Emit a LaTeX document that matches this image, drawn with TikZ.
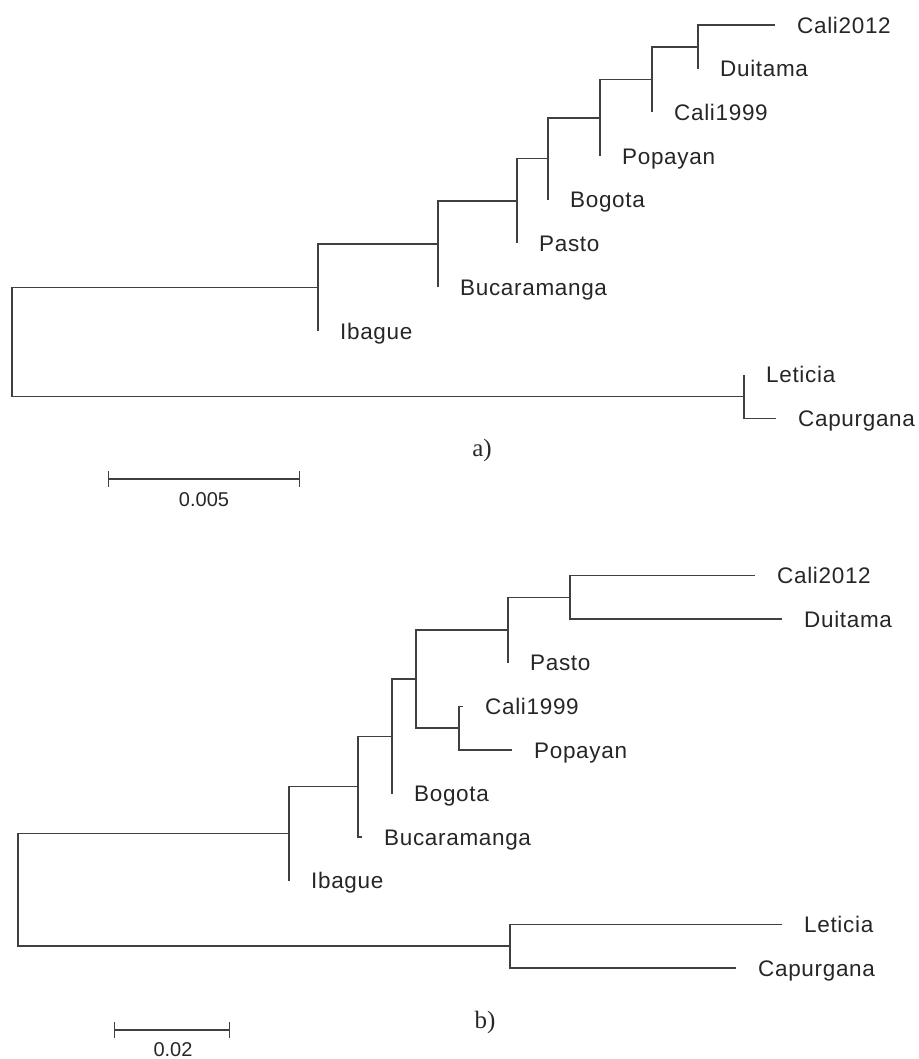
\documentclass[tikz,border=0pt]{standalone}
\usepackage{fontspec}
\setmainfont{Liberation Sans}
\newfontfamily\taxfont[LetterSpace=3]{Liberation Sans}
\newfontfamily\capfont{Liberation Serif}
\usetikzlibrary{arrows.meta}

\begin{document}
\begin{tikzpicture}[x=1pt,y=-1pt]
      \tikzset{branch/.style={color=black!75, line width=1.4pt},
               elbow/.style={to path={|- (\tikztotarget)}},
               taxon/.style={anchor=west, inner xsep=22pt, inner ysep=0pt, text height=16.2pt, text depth=0pt, text=black!85, font=\taxfont\fontsize{22.5}{26}\selectfont},
               barlabel/.style={inner sep=0pt, text height=14.3pt, text depth=0pt, text=black!85, font=\fontsize{20}{24}\selectfont},
               caption/.style={inner sep=0pt, text=black!85, font=\capfont\fontsize{25}{29}\selectfont}}
      \useasboundingbox (0,0) rectangle (918,1059);
%% Tree a)
      	\node[taxon] (aCali12) at (775,25) {Cali2012};
      	\node[taxon] (aDuit) at (698,68.7) {Duitama};
      	\node[taxon] (aCali99) at (652,112.4) {Cali1999};
      	\node[taxon] (aPopa) at (600,156.1) {Popayan};
      	\node[taxon] (aBogo) at (548,199.8) {Bogota};
      	\node[taxon] (aPast) at (517,243.5) {Pasto};
      	\node[taxon] (aBuca) at (438,287.2) {Bucaramanga};
      	\node[taxon] (aIbag) at (318,330.9) {Ibague};
      	\node[taxon] (aLeti) at (744,374.6) {Leticia};
      	\node[taxon] (aCapu) at (776,418.3) {Capurgana};
      	\coordinate (a1) at (698,46.9);
      	\coordinate (a2) at (652,79.6);
      	\coordinate (a3) at (600,117.9);
      	\coordinate (a4) at (548,158.8);
      	\coordinate (a5) at (517,201.2);
      	\coordinate (a6) at (438,244.2);
      	\coordinate (a7) at (318,287.5);
      	\coordinate (a8) at (744,396.5);
      	\coordinate (aRoot) at (12,342);
%Branches
		\path[branch] (a1) edge[elbow] (aCali12) edge[elbow] (aDuit);
		\path[branch] (a2) edge[elbow] (a1) edge[elbow] (aCali99);
		\path[branch] (a3) edge[elbow] (a2) edge[elbow] (aPopa);
		\path[branch] (a4) edge[elbow] (a3) edge[elbow] (aBogo);
		\path[branch] (a5) edge[elbow] (a4) edge[elbow] (aPast);
		\path[branch] (a6) edge[elbow] (a5) edge[elbow] (aBuca);
		\path[branch] (a7) edge[elbow] (a6) edge[elbow] (aIbag);
		\path[branch] (a8) edge[elbow] (aLeti) edge[elbow] (aCapu);
		\path[branch] (aRoot) edge[elbow] (a7) edge[elbow] (a8);
%Scale
      	\coordinate (sa1) at (108,479);
      	\coordinate (sa2) at (300,479);
		\draw[branch, {Bar[width=16pt]}-{Bar[width=16pt]}] (sa1) -- (sa2);
      	\node[barlabel] (la) at (204,499.5) {0.005};
      	\node[caption] (capa) at (482,450) {a)};
%% Tree b)
      	\node[taxon] (bCali12) at (755,575.5) {Cali2012};
      	\node[taxon] (bDuit) at (782,619.1) {Duitama};
      	\node[taxon] (bPast) at (508,662.7) {Pasto};
      	\node[taxon] (bCali99) at (463,706.3) {Cali1999};
      	\node[taxon] (bPopa) at (512,749.9) {Popayan};
      	\node[taxon] (bBogo) at (392,793.5) {Bogota};
      	\node[taxon] (bBuca) at (362,837.1) {Bucaramanga};
      	\node[taxon] (bIbag) at (289,880.7) {Ibague};
      	\node[taxon] (bLeti) at (782,924.3) {Leticia};
      	\node[taxon] (bCapu) at (736,967.9) {Capurgana};
      	\coordinate (b1) at (570,597.3);
      	\coordinate (b2) at (508,630);
      	\coordinate (b3) at (459,728.1);
      	\coordinate (b4) at (416,679.05);
      	\coordinate (b5) at (392,736.3);
      	\coordinate (b6) at (358,786.7);
      	\coordinate (b7) at (289,833.7);
      	\coordinate (b8) at (510,946.1);
      	\coordinate (bRoot) at (18,889.9);
%Branches
		\path[branch] (b1) edge[elbow] (bCali12) edge[elbow] (bDuit);
		\path[branch] (b2) edge[elbow] (b1) edge[elbow] (bPast);
		\path[branch] (b3) edge[elbow] (bCali99) edge[elbow] (bPopa);
		\path[branch] (b4) edge[elbow] (b2) edge[elbow] (b3);
		\path[branch] (b5) edge[elbow] (b4) edge[elbow] (bBogo);
		\path[branch] (b6) edge[elbow] (b5) edge[elbow] (bBuca);
		\path[branch] (b7) edge[elbow] (b6) edge[elbow] (bIbag);
		\path[branch] (b8) edge[elbow] (bLeti) edge[elbow] (bCapu);
		\path[branch] (bRoot) edge[elbow] (b7) edge[elbow] (b8);
%Scale
      	\coordinate (sb1) at (114,1030);
      	\coordinate (sb2) at (230,1030);
		\draw[branch, {Bar[width=16pt]}-{Bar[width=16pt]}] (sb1) -- (sb2);
      	\node[barlabel] (lb) at (173,1049.5) {0.02};
      	\node[caption] (capb) at (485,1022) {b)};
	\end{tikzpicture}
\end{document}
